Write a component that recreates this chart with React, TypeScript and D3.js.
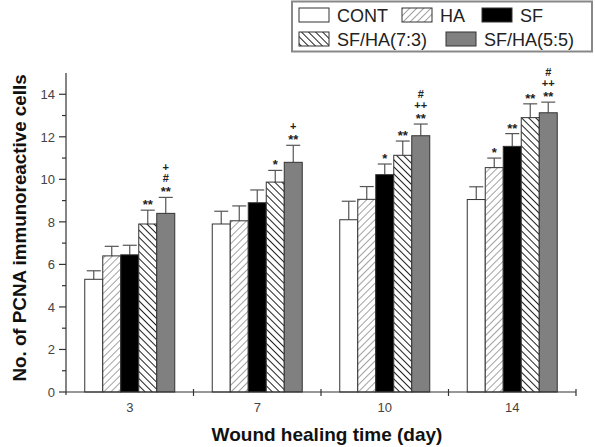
import { useEffect, useRef } from 'react'
import * as d3 from 'd3'

const days = ['3', '7', '10', '14']
const groups = ['CONT', 'HA', 'SF', 'SF/HA(7:3)', 'SF/HA(5:5)']
const means = {
  CONT: [5.3, 7.9, 8.1, 9.05],
  HA: [6.4, 8.05, 9.06, 10.55],
  SF: [6.45, 8.9, 10.22, 11.55],
  'SF/HA(7:3)': [7.9, 9.87, 11.13, 12.9],
  'SF/HA(5:5)': [8.4, 10.8, 12.05, 13.13],
}
const errs = {
  CONT: [0.4, 0.6, 0.87, 0.6],
  HA: [0.45, 0.7, 0.6, 0.45],
  SF: [0.45, 0.6, 0.5, 0.6],
  'SF/HA(7:3)': [0.65, 0.55, 0.67, 0.65],
  'SF/HA(5:5)': [0.75, 0.8, 0.55, 0.5],
}
// significance marks, listed bottom to top
const marks = {
  CONT: [[], [], [], []],
  HA: [[], [], [], ['*']],
  SF: [[], [], ['*'], ['**']],
  'SF/HA(7:3)': [['**'], ['*'], ['**'], ['**']],
  'SF/HA(5:5)': [['**', '#', '+'], ['**', '+'], ['**', '++', '#'], ['**', '++', '#']],
}
const yTicks = [0, 2, 4, 6, 8, 10, 12, 14]
const yMinor = [1, 3, 5, 7, 9, 11, 13]

const FILL = {
  CONT: '#ffffff',
  HA: 'url(#hatchHA)',
  SF: '#000000',
  'SF/HA(7:3)': 'url(#hatch73)',
  'SF/HA(5:5)': '#808080',
}
const FONT = '"Liberation Sans", Arial, sans-serif'

export default function App() {
  const svgRef = useRef(null)

  useEffect(() => {
    const svg = d3.select(svgRef.current)
    svg.selectAll('*').remove()
    const W = 595, H = 447
    svg.attr('width', W).attr('height', H)

    const defs = svg.append('defs')
    const p1 = defs.append('pattern').attr('id', 'hatchHA')
      .attr('patternUnits', 'userSpaceOnUse').attr('width', 5).attr('height', 5)
      .attr('patternTransform', 'rotate(45)')
    p1.append('rect').attr('width', 5).attr('height', 5).attr('fill', '#fff')
    p1.append('line').attr('x1', 0).attr('y1', 0).attr('x2', 0).attr('y2', 5)
      .attr('stroke', '#555').attr('stroke-width', 1.1)
    const p2 = defs.append('pattern').attr('id', 'hatch73')
      .attr('patternUnits', 'userSpaceOnUse').attr('width', 5).attr('height', 5)
      .attr('patternTransform', 'rotate(-45)')
    p2.append('rect').attr('width', 5).attr('height', 5).attr('fill', '#fff')
    p2.append('line').attr('x1', 0).attr('y1', 0).attr('x2', 0).attr('y2', 5)
      .attr('stroke', '#222').attr('stroke-width', 2)

    const x0 = d3.scaleBand().domain(days).range([66, 576])
    const bw = 18
    const x1 = d3.scaleBand().domain(groups).range([-bw * 2.5, bw * 2.5])
    const y = d3.scaleLinear().domain([0, 15]).range([392, 73])

    // bars
    groups.forEach(gname => {
      days.forEach((d, i) => {
        const cx = x0(d) + x0.bandwidth() / 2
        const bx = cx + x1(gname)
        const v = means[gname][i]
        const top = v + errs[gname][i]
        const mid = bx + bw / 2
        svg.append('line').attr('x1', mid).attr('x2', mid)
          .attr('y1', y(v)).attr('y2', y(top)).attr('stroke', '#555').attr('stroke-width', 1.2)
        svg.append('line').attr('x1', mid - 7).attr('x2', mid + 7)
          .attr('y1', y(top)).attr('y2', y(top)).attr('stroke', '#555').attr('stroke-width', 1.2)
        svg.append('rect').attr('x', bx).attr('y', y(v))
          .attr('width', bw).attr('height', y(0) - y(v))
          .attr('fill', FILL[gname]).attr('stroke', '#333').attr('stroke-width', 1)
        marks[gname][i].forEach((m, k) => {
          const c = y(top) - 9 - k * 11
          svg.append('text').attr('x', mid).attr('y', m.startsWith('*') ? c + 8 : c + 4.5)
            .attr('text-anchor', 'middle').attr('font-family', FONT)
            .attr('font-size', m.startsWith('*') ? 13 : 11).attr('font-weight', 'bold')
            .attr('fill', '#222').text(m)
        })
      })
    })

    // y axis
    const ax = svg.append('g').attr('stroke', '#333').attr('stroke-width', 1.2)
    ax.append('line').attr('x1', 66).attr('x2', 66).attr('y1', y(0) + 3).attr('y2', y(15))
    yTicks.forEach(t => {
      ax.append('line').attr('x1', 59).attr('x2', 66).attr('y1', y(t)).attr('y2', y(t))
      svg.append('text').attr('x', 55).attr('y', y(t) + 4.7).attr('text-anchor', 'end')
        .attr('font-family', FONT).attr('font-size', 13).attr('fill', '#444').text(t)
    })
    yMinor.forEach(t => {
      ax.append('line').attr('x1', 62).attr('x2', 66).attr('y1', y(t)).attr('y2', y(t))
    })

    // x axis
    ax.append('line').attr('x1', 66).attr('x2', 576).attr('y1', y(0)).attr('y2', y(0))
    days.forEach(d => {
      const bx = x0(d) + x0.bandwidth()
      ax.append('line').attr('x1', bx).attr('x2', bx).attr('y1', y(0) - 3).attr('y2', y(0) + 4)
      svg.append('text').attr('x', x0(d) + x0.bandwidth() / 2).attr('y', 412)
        .attr('text-anchor', 'middle').attr('font-family', FONT).attr('font-size', 13)
        .attr('fill', '#444').text(d)
    })

    // axis titles
    svg.append('text').attr('x', 327).attr('y', 441).attr('text-anchor', 'middle')
      .attr('font-family', FONT).attr('font-size', 19).attr('font-weight', 'bold')
      .attr('fill', '#111').text('Wound healing time (day)')
    svg.append('text').attr('transform', `translate(26,228) rotate(-90)`)
      .attr('text-anchor', 'middle').attr('font-family', FONT).attr('font-size', 18.8)
      .attr('font-weight', 'bold').attr('fill', '#111').text('No. of PCNA immunoreactive cells')

    // legend
    const lg = svg.append('g')
    lg.append('rect').attr('x', 292).attr('y', 1.5).attr('width', 300).attr('height', 50)
      .attr('fill', '#fff').attr('stroke', '#888').attr('stroke-width', 2)
    const legendPos = [
      [299, 15], [402, 15], [482, 15],
      [299, 39], [446, 39],
    ]
    groups.forEach((gname, i) => {
      const [lx, ly] = legendPos[i]
      lg.append('rect').attr('x', lx).attr('y', ly - 7).attr('width', 30).attr('height', 14)
        .attr('fill', FILL[gname]).attr('stroke', '#333').attr('stroke-width', 1)
      lg.append('text').attr('x', lx + 38).attr('y', ly + 6.5).attr('font-family', FONT)
        .attr('font-size', 18).attr('fill', '#222').text(gname)
    })
  }, [])

  return (
    <div style={{ position: 'absolute', left: 0, top: 0 }}>
      <svg ref={svgRef} style={{ display: 'block' }} />
    </div>
  )
}
